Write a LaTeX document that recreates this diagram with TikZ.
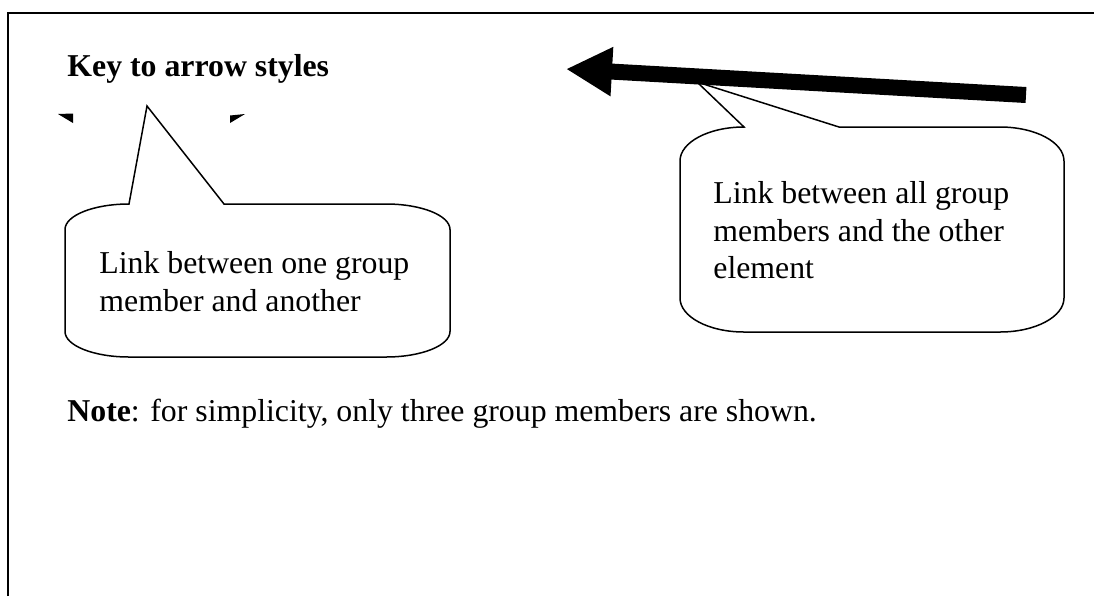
\documentclass[tikz,border=0pt]{standalone}
\usepackage{fontspec}
\setmainfont{Liberation Serif}
\usetikzlibrary{arrows.meta}
\tikzset{
  txt/.style={anchor=base west, inner sep=0pt, font=\fontsize{15.9}{19}\selectfont},
  callout/.style={draw=black, line width=0.75pt, fill=white, line join=miter},
  frameline/.style={draw=black, line width=1pt},
  bigarrow/.style={line width=8pt, line cap=butt, -{Triangle[length=23pt,width=23pt]}},
  tipfrag/.style={fill=black}
}
\begin{document}
\begin{tikzpicture}[x=0.5pt,y=-0.5pt]
\useasboundingbox (0,0) rectangle (1094,596);
% frame
\draw[frameline] (7.5,596) -- (7.5,12.5) -- (1094,12.5);
% title
\node[txt, font=\fontsize{15.9}{19}\selectfont\bfseries] (title) at (67,76) {Key to arrow styles};
% small arrowhead fragments
\fill[tipfrag] (58,114) -- (73,113.5) -- (73,123) -- cycle;
\fill[tipfrag] (230,115.5) -- (245,114) -- (230,123) -- cycle;
% callout 1
\draw[callout] (65,229.5) arc[start angle=180, end angle=270, x radius=64, y radius=25.5]
  -- (147,106) -- (224,204) -- (386,204)
  arc[start angle=270, end angle=360, x radius=64, y radius=25.5]
  -- (450,331.5)
  arc[start angle=0, end angle=90, x radius=64, y radius=25.5]
  -- (129,357)
  arc[start angle=90, end angle=180, x radius=64, y radius=25.5] -- cycle;
\node[txt] (c1a) at (99,273) {Link between one group};
\node[txt] (c1b) at (99,311) {member and another};
% callout 2
\draw[callout] (680,161) arc[start angle=180, end angle=270, x radius=64, y radius=34]
  -- (697,82) -- (839,127) -- (1000,127)
  arc[start angle=270, end angle=360, x radius=64, y radius=34]
  -- (1064,298)
  arc[start angle=0, end angle=90, x radius=64, y radius=34]
  -- (744,332)
  arc[start angle=90, end angle=180, x radius=64, y radius=34] -- cycle;
\node[txt] (c2a) at (713,203) {Link between all group};
\node[txt] (c2b) at (713,241) {members and the other};
\node[txt] (c2c) at (713,278) {element};
% big arrow
\coordinate (tail) at (1026,95);
\coordinate (tip) at (566,69);
\draw[bigarrow] (tail) -- (tip);
% note
\node[txt] (note) at (67,421) {\textbf{Note}: for simplicity, only three group members are shown.};
\end{tikzpicture}
\end{document}
